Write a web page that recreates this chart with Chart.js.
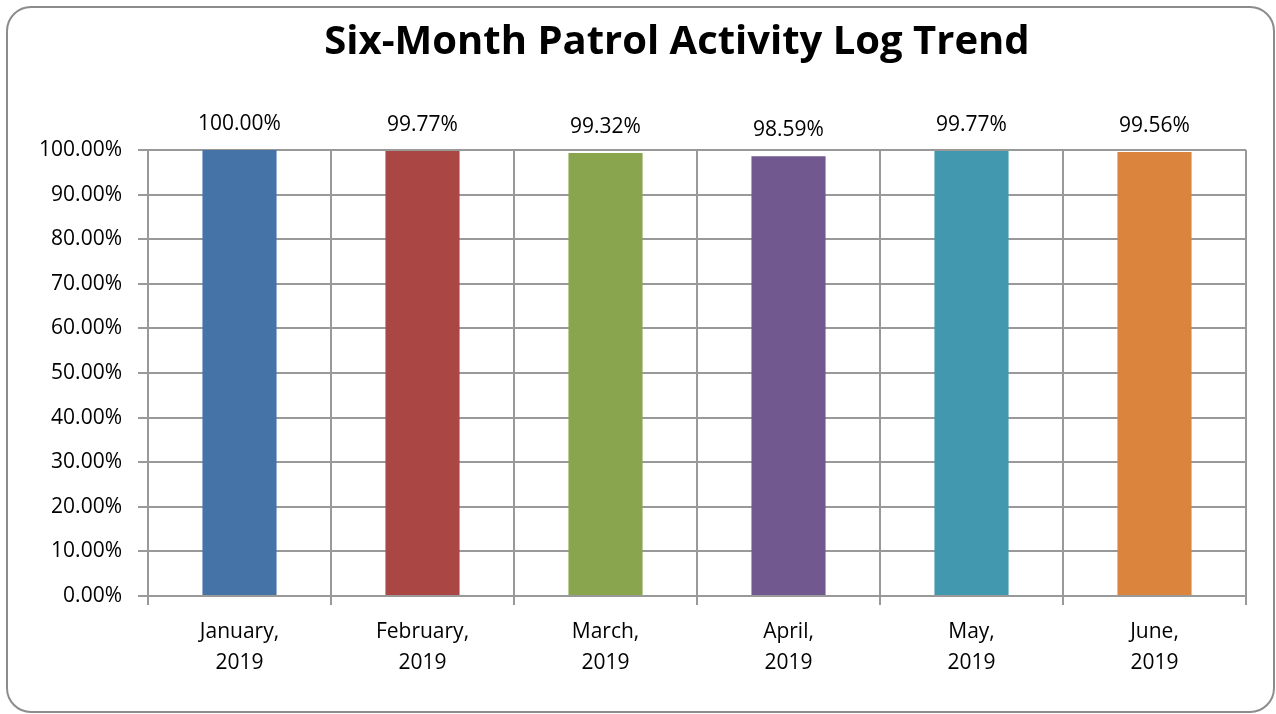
<!DOCTYPE html>
<html>
<head>
<meta charset="utf-8">
<script src="https://cdn.jsdelivr.net/npm/chart.js@4.4.1/dist/chart.umd.min.js"></script>
<style>
  html, body { margin: 0; padding: 0; background: #ffffff; }
  #wrap { width: 1276px; height: 714px; position: relative; }
</style>
</head>
<body>
<div id="wrap"><canvas id="c" width="1276" height="714"></canvas></div>
<script>
const categories = [["January,", "2019"], ["February,", "2019"], ["March,", "2019"], ["April,", "2019"], ["May,", "2019"], ["June,", "2019"]];
const values = [100.00, 99.77, 99.32, 98.59, 99.77, 99.56];
const barColors = ["#4572A7", "#AA4643", "#89A54E", "#71588F", "#4198AF", "#DB843D"];
const titleText = "Six-Month Patrol Activity Log Trend";

const FONT = "'Open Sans', sans-serif";

const frame = {
  id: 'frame',
  beforeDraw(chart) {
    const ctx = chart.ctx;
    ctx.save();
    ctx.fillStyle = '#ffffff';
    ctx.fillRect(0, 0, chart.width, chart.height);
    ctx.strokeStyle = '#8c8c8c';
    ctx.lineWidth = 2;
    ctx.beginPath();
    ctx.roundRect(7, 7, 1267, 705, 24);
    ctx.stroke();
    ctx.fillStyle = '#000000';
    ctx.font = "bold 40px " + FONT;
    ctx.textAlign = 'center';
    ctx.textBaseline = 'middle';
    ctx.fillText(titleText, 677, 43);
    ctx.restore();
  }
};

const valueLabels = {
  id: 'valueLabels',
  afterDatasetsDraw(chart) {
    const ctx = chart.ctx;
    const meta = chart.getDatasetMeta(0);
    ctx.save();
    ctx.font = "21px " + FONT;
    ctx.fillStyle = '#000000';
    ctx.textAlign = 'center';
    ctx.textBaseline = 'middle';
    meta.data.forEach((bar, i) => {
      ctx.fillText(values[i].toFixed(2) + '%', bar.x, bar.y - 26);
    });
    ctx.restore();
  }
};

new Chart(document.getElementById('c'), {
  type: 'bar',
  data: {
    labels: categories,
    datasets: [{
      data: values,
      backgroundColor: barColors,
      borderWidth: 0,
      barPercentage: 0.81,
      categoryPercentage: 0.5
    }]
  },
  options: {
    responsive: false,
    animation: false,
    devicePixelRatio: 1,
    layout: { padding: { left: 0, right: 30, top: 150, bottom: 0 } },
    plugins: {
      legend: { display: false },
      tooltip: { enabled: false },
      title: { display: false }
    },
    scales: {
      x: {
        grid: { color: '#999999', lineWidth: 2, offset: true, drawTicks: true, tickLength: 9 },
        border: { color: '#999999', width: 2 },
        ticks: { color: '#000000', font: { family: FONT, size: 21, lineHeight: 1.5 }, padding: 11, maxRotation: 0, autoSkip: false },
        afterFit(scale) { scale.height = 118; }
      },
      y: {
        min: 0, max: 100,
        grid: { color: '#999999', lineWidth: 2, drawTicks: true, tickLength: 10 },
        border: { color: '#999999', width: 2 },
        ticks: {
          stepSize: 10,
          color: '#000000',
          font: { family: FONT, size: 21 },
          padding: 16,
          callback: (v) => v.toFixed(2) + '%'
        },
        afterFit(scale) { scale.width = 148; }
      }
    }
  },
  plugins: [frame, valueLabels]
});
</script>
</body>
</html>
